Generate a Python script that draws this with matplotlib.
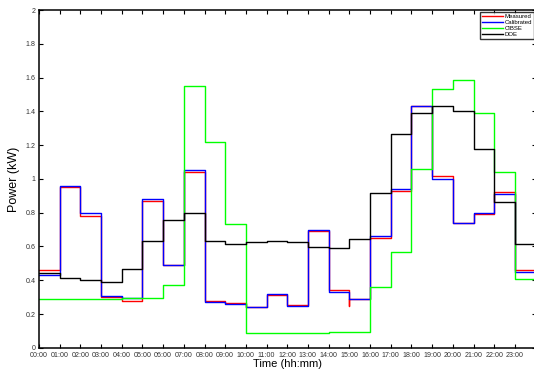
import numpy as np
import matplotlib
matplotlib.use("Agg")
import matplotlib.pyplot as plt

plt.rcParams['font.family'] = ['Liberation Sans', 'DejaVu Sans']

# hourly values (kW), one value per hour starting at 00:00
hours = list(range(25))
measured = [0.46, 0.955, 0.78, 0.30, 0.28, 0.87, 0.49, 1.04, 0.275, 0.265, 0.24, 0.31,
            0.255, 0.69, 0.34, 0.29, 0.65, 0.93, 1.43, 1.02, 0.74, 0.79, 0.92, 0.46]
calibrated = [0.43, 0.96, 0.80, 0.305, 0.295, 0.88, 0.49, 1.05, 0.27, 0.26, 0.24, 0.32,
              0.25, 0.70, 0.33, 0.29, 0.66, 0.94, 1.43, 1.00, 0.74, 0.80, 0.91, 0.45]
cibse = [0.29, 0.29, 0.29, 0.29, 0.295, 0.295, 0.37, 1.55, 1.22, 0.735, 0.09, 0.09,
         0.09, 0.09, 0.095, 0.095, 0.36, 0.57, 1.06, 1.53, 1.585, 1.39, 1.04, 0.41]
doe = [0.445, 0.415, 0.40, 0.39, 0.467, 0.633, 0.758, 0.80, 0.63, 0.615, 0.627, 0.634,
       0.625, 0.597, 0.59, 0.645, 0.918, 1.265, 1.393, 1.432, 1.405, 1.18, 0.865, 0.615]
# short dip in the measured data at 15:00
glitch_hour = 15
glitch_value = 0.25

xtick_labels = ["%02d:00" % h for h in range(24)]
ytick_vals = [0, 0.2, 0.4, 0.6, 0.8, 1, 1.2, 1.4, 1.6, 1.8, 2]
ytick_labels = ["0", "0.2", "0.4", "0.6", "0.8", "1", "1.2", "1.4", "1.6", "1.8", "2"]


def step_xy(vals):
    x = np.array(hours, dtype=float)
    y = np.append(vals, vals[-1])
    return x, y


fig = plt.figure(figsize=(5.34, 3.72), dpi=100)
ax = fig.add_axes([0.073, 0.065, 0.93, 0.908])

# measured series with the extra point for the dip
mx, my = step_xy(measured)
mx = np.insert(mx, glitch_hour, glitch_hour)
my = np.insert(my, glitch_hour, glitch_value)

ax.plot(mx, my, drawstyle="steps-post", color=(1, 0, 0), lw=1.0, label="Measured")
x, y = step_xy(calibrated)
ax.plot(x, y, drawstyle="steps-post", color=(0, 0, 1), lw=1.0, label="Calibrated")
x, y = step_xy(cibse)
ax.plot(x, y, drawstyle="steps-post", color=(0, 1, 0), lw=1.0, label="CIBSE")
x, y = step_xy(doe)
ax.plot(x, y, drawstyle="steps-post", color="black", lw=1.0, label="DOE")

ax.set_xlim(0, 24)
ax.set_ylim(0, 2)
ax.set_xticks(range(24))
ax.set_xticklabels(xtick_labels, fontsize=5.1, color="#333333")
ax.set_yticks(ytick_vals)
ax.set_yticklabels(ytick_labels, fontsize=5.1, color="#333333")
ax.tick_params(direction="in", length=3, width=0.8, top=True, right=True)
ax.tick_params(axis="x", pad=3.2)
ax.tick_params(axis="y", pad=2.5)
for s in ax.spines.values():
    s.set_linewidth(1.1)

ax.set_xlabel("Time (hh:mm)", fontsize=8, labelpad=0)
ax.set_ylabel("Power (kW)", fontsize=9, labelpad=4)

leg = ax.legend(loc="upper right", fontsize=4.3, frameon=True, fancybox=False,
                edgecolor="black", handlelength=3.5, handletextpad=0.3,
                borderpad=0.3, labelspacing=0.15, borderaxespad=0.3)
leg.get_frame().set_linewidth(1.0)

fig.savefig("out.png", dpi=100)
